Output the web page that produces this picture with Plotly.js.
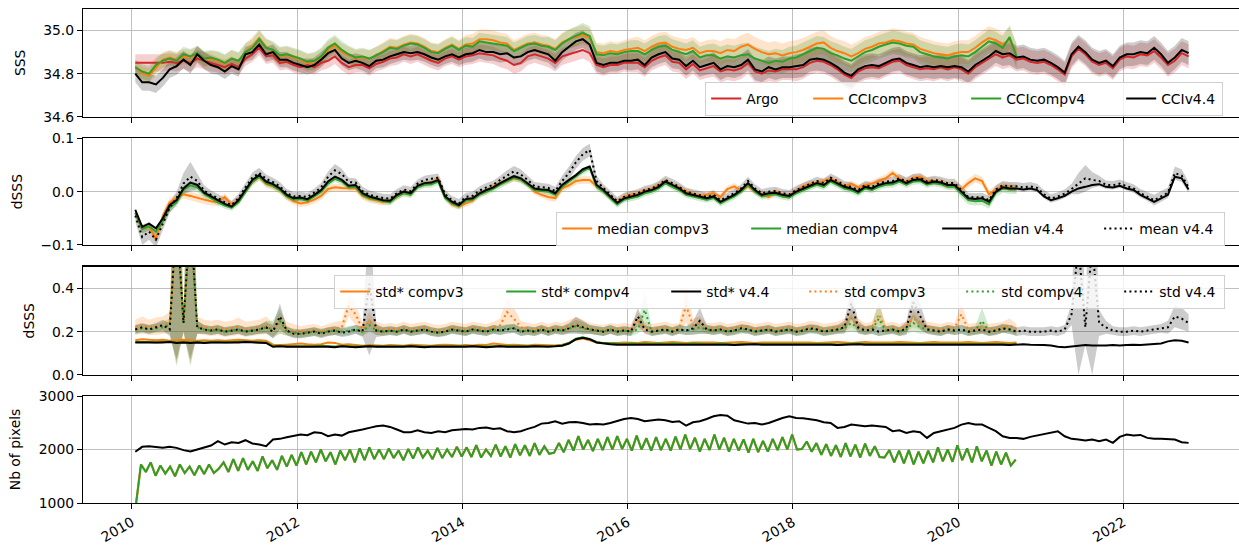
<!DOCTYPE html>
<html><head><meta charset="utf-8">
<script src="https://cdn.plot.ly/plotly-3.0.1.min.js"></script>
<style>html,body{margin:0;padding:0;background:#fff}#chart{width:1239px;height:546px}</style>
</head><body><div id="chart"></div>
<script>
// ---------- time bases ----------
const T0 = 2010.04, DT = 1 / 12;      // monthly samples (SSS, dSSS, std, v4.4 pixels)
const G0 = 2010.05, GDT = 1 / 17;     // compv3/compv4 pixel-count samples
const xTickVals = [2010, 2012, 2014, 2016, 2018, 2020, 2022];
const xTickText = ['2010', '2012', '2014', '2016', '2018', '2020', '2022'];

// ---------- panel 1 : SSS ----------
const sssArgo = [
34.85,34.85,34.85,34.85,34.85,34.855,34.85,34.86,34.85,34.87,34.86,34.85,
34.84,34.83,34.845,34.83,34.87,34.89,34.92,34.88,34.885,34.85,34.855,34.84,
34.83,34.84,34.83,34.85,34.86,34.88,34.85,34.83,34.84,34.84,34.825,34.845,
34.855,34.87,34.875,34.89,34.88,34.89,34.875,34.86,34.85,34.87,34.88,34.865,
34.88,34.885,34.895,34.89,34.885,34.87,34.86,34.84,34.85,34.88,34.89,34.88,
34.87,34.85,34.88,34.89,34.90,34.91,34.895,34.84,34.83,34.84,34.84,34.85,
34.85,34.85,34.83,34.86,34.875,34.885,34.855,34.85,34.82,34.845,34.815,34.825,
34.835,34.81,34.82,34.815,34.825,34.85,34.81,34.80,34.815,34.81,34.82,34.82,
34.82,34.83,34.85,34.86,34.855,34.84,34.82,34.795,34.78,34.81,34.825,34.83,
34.825,34.84,34.855,34.86,34.84,34.83,34.82,34.825,34.82,34.83,34.82,34.83,
34.82,34.80,34.83,34.85,34.87,34.89,34.875,34.885,34.865,34.87,34.855,34.85,
34.855,34.84,34.82,34.795,34.88,34.915,34.89,34.855,34.84,34.85,34.825,34.865,
34.88,34.875,34.89,34.885,34.905,34.875,34.84,34.86,34.895,34.88];
const sssV3 = [
34.83,34.80,34.79,34.83,34.865,34.875,34.865,34.88,34.875,34.89,34.865,34.87,
34.86,34.845,34.87,34.855,34.90,34.93,34.965,34.925,34.905,34.88,34.885,34.875,
34.865,34.85,34.855,34.875,34.91,34.93,34.90,34.885,34.87,34.875,34.87,34.885,
34.905,34.925,34.92,34.935,34.945,34.94,34.925,34.905,34.90,34.92,34.935,34.915,
34.935,34.94,34.96,34.96,34.955,34.945,34.94,34.91,34.925,34.94,34.945,34.935,
34.93,34.915,34.945,34.96,34.97,34.98,34.965,34.90,34.895,34.905,34.90,34.91,
34.915,34.92,34.905,34.925,34.94,34.945,34.925,34.915,34.91,34.92,34.895,34.905,
34.905,34.895,34.91,34.905,34.925,34.935,34.915,34.90,34.89,34.895,34.885,34.895,
34.90,34.91,34.925,34.94,34.945,34.92,34.905,34.895,34.88,34.895,34.915,34.925,
34.94,34.945,34.955,34.95,34.94,34.935,34.915,34.905,34.895,34.89,34.885,34.895,
34.90,34.90,34.92,34.945,34.965,34.955,34.935,34.96,34.89];
const sssV4 = [
34.83,34.81,34.80,34.84,34.86,34.87,34.86,34.89,34.88,34.895,34.87,34.875,
34.865,34.85,34.87,34.86,34.90,34.92,34.96,34.92,34.91,34.885,34.89,34.88,
34.87,34.855,34.86,34.88,34.92,34.94,34.91,34.89,34.875,34.88,34.87,34.885,
34.90,34.92,34.915,34.93,34.94,34.935,34.92,34.90,34.895,34.915,34.93,34.91,
34.93,34.925,34.95,34.945,34.94,34.935,34.93,34.905,34.92,34.935,34.94,34.93,
34.925,34.91,34.94,34.96,34.975,34.99,34.975,34.89,34.885,34.895,34.89,34.90,
34.905,34.905,34.89,34.91,34.925,34.93,34.91,34.90,34.89,34.905,34.875,34.885,
34.885,34.87,34.88,34.875,34.885,34.89,34.87,34.86,34.85,34.86,34.855,34.87,
34.875,34.89,34.905,34.92,34.915,34.895,34.885,34.87,34.86,34.88,34.90,34.91,
34.925,34.935,34.945,34.94,34.93,34.925,34.90,34.89,34.88,34.875,34.87,34.88,
34.885,34.88,34.90,34.925,34.95,34.94,34.92,34.97,34.88];
const sss44 = [
34.80,34.76,34.76,34.75,34.78,34.82,34.835,34.865,34.84,34.89,34.86,34.84,
34.83,34.81,34.835,34.82,34.89,34.90,34.935,34.89,34.90,34.865,34.865,34.85,
34.84,34.83,34.84,34.865,34.895,34.91,34.87,34.85,34.86,34.85,34.835,34.86,
34.865,34.88,34.89,34.90,34.895,34.90,34.89,34.875,34.865,34.88,34.89,34.875,
34.89,34.895,34.91,34.90,34.90,34.89,34.895,34.875,34.88,34.90,34.91,34.90,
34.89,34.86,34.90,34.925,34.95,34.96,34.935,34.85,34.84,34.85,34.85,34.86,
34.86,34.865,34.84,34.875,34.89,34.90,34.87,34.865,34.835,34.86,34.83,34.84,
34.85,34.82,34.835,34.83,34.84,34.865,34.82,34.81,34.83,34.82,34.83,34.83,
34.835,34.84,34.865,34.87,34.865,34.85,34.83,34.805,34.79,34.82,34.835,34.84,
34.835,34.85,34.865,34.87,34.85,34.84,34.83,34.835,34.83,34.835,34.83,34.835,
34.83,34.81,34.84,34.86,34.88,34.905,34.89,34.895,34.875,34.88,34.865,34.86,
34.865,34.85,34.83,34.805,34.89,34.925,34.90,34.865,34.85,34.86,34.835,34.875,
34.89,34.89,34.90,34.895,34.92,34.89,34.85,34.875,34.91,34.895];
// half-width of the shaded envelopes, one value per year (2010, 2011, ...)
const sprArgoY = [0.04,0.035,0.035,0.035,0.04,0.04,0.045,0.05,0.055,0.055,0.055,0.055,0.055];
const sprV3Y   = [0.035,0.04,0.04,0.04,0.045,0.045,0.05,0.055,0.055,0.055,0.055];
const sprV4Y   = [0.035,0.04,0.04,0.04,0.04,0.045,0.05,0.055,0.055,0.055,0.055];
const spr44Y   = [0.04,0.035,0.035,0.035,0.04,0.04,0.045,0.05,0.055,0.055,0.055,0.055,0.055];

// ---------- panel 2 : dSSS medians / mean ----------
const medV3 = [
-0.04,-0.07,-0.065,-0.09,-0.045,-0.02,-0.012,-0.005,-0.008,-0.012,-0.015,-0.018,
-0.02,-0.01,-0.025,-0.015,0.002,0.018,0.028,0.014,0.01,0.003,-0.009,-0.018,
-0.022,-0.02,-0.015,-0.008,0.005,0.008,0.007,0.007,0.006,-0.008,-0.014,-0.016,
-0.02,-0.018,-0.01,-0.002,-0.004,0.01,0.015,0.016,0.024,-0.01,-0.024,-0.028,
-0.022,-0.017,-0.004,0.0,0.01,0.016,0.02,0.025,0.022,0.014,0.0,-0.006,
-0.01,-0.012,0.006,0.012,0.02,0.022,0.022,0.01,0.002,-0.01,-0.02,-0.01,
-0.006,-0.004,0.002,0.005,0.012,0.02,0.012,0.008,0.0,-0.004,-0.008,-0.006,
-0.003,-0.01,0.005,0.01,0.002,0.01,0.0,-0.004,-0.01,0.0,-0.006,-0.008,
0.002,0.01,0.015,0.016,0.02,0.024,0.018,0.01,0.015,0.008,0.012,0.015,
0.02,0.025,0.035,0.025,0.018,0.026,0.028,0.02,0.02,0.018,0.012,0.012,
0.004,0.016,0.025,0.02,-0.005,0.004,0.01,0.008,0.006];
const medV4 = [
-0.04,-0.07,-0.065,-0.075,-0.055,-0.03,-0.02,0.003,0.012,0.008,-0.004,-0.012,
-0.02,-0.026,-0.03,-0.02,0.0,0.018,0.028,0.016,0.011,0.003,-0.009,-0.015,
-0.014,-0.017,-0.009,0.0,0.015,0.024,0.019,0.008,0.009,-0.006,-0.012,-0.015,
-0.018,-0.02,-0.009,-0.003,-0.006,0.008,0.013,0.014,0.019,-0.012,-0.022,-0.027,
-0.017,-0.015,-0.006,0.0,0.005,0.013,0.019,0.026,0.022,0.013,0.003,0.001,
0.0,-0.006,0.009,0.019,0.028,0.038,0.045,0.009,0.0,-0.012,-0.024,-0.015,
-0.012,-0.009,-0.003,0.0,0.006,0.016,0.009,0.003,-0.006,-0.009,-0.012,-0.015,
-0.012,-0.022,-0.015,-0.009,0.0,0.013,0.0,-0.009,-0.006,-0.005,-0.009,-0.011,
-0.003,0.003,0.008,0.013,0.009,0.019,0.013,0.006,0.003,-0.003,0.006,0.003,
0.009,0.013,0.014,0.019,0.013,0.019,0.02,0.013,0.016,0.014,0.009,0.009,
-0.004,-0.016,-0.018,-0.017,-0.024,-0.002,0.006,0.004,0.004];
const med44 = [
-0.034,-0.066,-0.06,-0.069,-0.05,-0.025,-0.016,0.006,0.017,0.0125,-0.002,-0.009,
-0.016,-0.023,-0.028,-0.016,0.003,0.022,0.031,0.019,0.014,0.006,-0.006,-0.0125,
-0.011,-0.014,-0.006,0.003,0.019,0.028,0.022,0.011,0.0125,-0.003,-0.009,-0.0125,
-0.016,-0.017,-0.006,0.0,-0.003,0.011,0.016,0.017,0.022,-0.009,-0.019,-0.025,
-0.014,-0.0125,-0.003,0.003,0.008,0.016,0.022,0.029,0.025,0.016,0.006,0.004,
0.003,-0.003,0.0125,0.022,0.031,0.042,0.047,0.0125,0.003,-0.009,-0.021,-0.0125,
-0.009,-0.006,0.0,0.003,0.009,0.019,0.0125,0.006,-0.003,-0.006,-0.009,-0.0125,
-0.009,-0.019,-0.0125,-0.006,0.003,0.016,0.003,-0.006,-0.003,-0.002,-0.006,-0.008,
0.0,0.006,0.011,0.016,0.0125,0.022,0.016,0.009,0.006,0.0,0.009,0.006,
0.0125,0.016,0.017,0.022,0.016,0.022,0.023,0.016,0.019,0.017,0.0125,0.0125,
0.0,-0.0125,-0.014,-0.0125,-0.019,0.0,0.008,0.006,0.006,0.004,0.006,0.003,
-0.009,-0.016,-0.0125,-0.008,0.0,0.006,0.009,0.0125,0.014,0.009,0.008,0.011,
0.006,0.003,-0.006,-0.0125,-0.019,-0.0125,-0.006,0.028,0.025,0.004];
const mean44 = [
-0.045,-0.085,-0.075,-0.09,-0.06,-0.03,-0.012,0.015,0.028,0.02,0.002,-0.006,
-0.012,-0.02,-0.025,-0.012,0.008,0.026,0.035,0.024,0.018,0.01,-0.003,-0.009,
-0.008,-0.01,-0.002,0.008,0.028,0.04,0.033,0.018,0.017,0.001,-0.006,-0.009,
-0.012,-0.013,-0.003,0.004,0.001,0.015,0.022,0.024,0.026,-0.005,-0.016,-0.022,
-0.01,-0.008,0.002,0.008,0.013,0.022,0.03,0.038,0.032,0.022,0.01,0.008,
0.007,0.001,0.02,0.035,0.055,0.07,0.078,0.02,0.006,-0.006,-0.018,-0.01,
-0.006,-0.003,0.003,0.006,0.012,0.022,0.016,0.009,0.0,-0.003,-0.006,-0.01,
-0.006,-0.016,-0.01,-0.003,0.006,0.02,0.006,-0.003,0.0,0.001,-0.003,-0.005,
0.003,0.009,0.014,0.02,0.016,0.026,0.02,0.012,0.009,0.003,0.012,0.009,
0.016,0.019,0.02,0.025,0.019,0.025,0.026,0.019,0.022,0.02,0.016,0.016,
0.003,-0.01,-0.011,-0.01,-0.016,0.004,0.012,0.01,0.01,0.008,0.01,0.007,
-0.005,-0.013,-0.009,-0.004,0.005,0.015,0.025,0.022,0.02,0.013,0.012,0.015,
0.01,0.006,-0.003,-0.009,-0.016,-0.009,-0.002,0.035,0.03,0.008];
const mean44Spr = [
.012,.015,.015,.015,.012,.01,.012,.02,.028,.015,.01,.008,
.008,.008,.008,.008,.008,.01,.01,.008,.008,.008,.008,.008,
.008,.008,.008,.008,.01,.012,.01,.008,.008,.008,.008,.008,
.008,.008,.008,.008,.008,.008,.008,.008,.008,.008,.008,.008,
.008,.008,.008,.008,.008,.008,.01,.01,.01,.008,.008,.008,
.008,.008,.01,.012,.012,.012,.012,.01,.008,.008,.008,.008,
.008,.008,.008,.008,.008,.008,.008,.008,.008,.008,.008,.008,
.008,.008,.008,.008,.008,.008,.008,.008,.008,.008,.008,.008,
.008,.008,.008,.008,.008,.008,.008,.008,.008,.008,.008,.008,
.008,.008,.008,.008,.008,.008,.008,.008,.008,.008,.008,.008,
.008,.008,.008,.008,.008,.008,.008,.008,.008,.008,.008,.008,
.008,.008,.008,.008,.01,.02,.025,.015,.01,.008,.008,.008,
.008,.008,.008,.008,.01,.01,.01,.012,.012,.01];
const sprMedV3Y = [0.008,0.007,0.007,0.006,0.006,0.007,0.006,0.006,0.006,0.007,0.008];
const sprMedV4Y = [0.008,0.006,0.006,0.006,0.006,0.006,0.006,0.006,0.006,0.006,0.008];

// ---------- panel 3 : dSSS standard deviations ----------
const stdStarV3 = [
0.16,0.165,0.162,0.16,0.162,0.158,0.16,0.162,0.16,0.158,0.16,0.158,
0.16,0.158,0.16,0.162,0.16,0.158,0.16,0.158,0.14,0.138,0.14,0.142,
0.145,0.142,0.14,0.142,0.15,0.148,0.14,0.142,0.138,0.135,0.138,0.136,
0.135,0.138,0.136,0.135,0.14,0.138,0.136,0.135,0.138,0.14,0.138,0.136,
0.138,0.136,0.14,0.138,0.145,0.14,0.138,0.14,0.138,0.136,0.14,0.138,
0.138,0.136,0.14,0.148,0.162,0.168,0.16,0.15,0.148,0.147,0.148,0.15,
0.15,0.148,0.152,0.15,0.148,0.15,0.152,0.15,0.148,0.15,0.15,0.152,
0.15,0.148,0.15,0.15,0.152,0.15,0.148,0.15,0.15,0.152,0.15,0.15,
0.15,0.152,0.15,0.148,0.15,0.15,0.152,0.15,0.148,0.15,0.152,0.15,
0.15,0.148,0.15,0.152,0.15,0.15,0.148,0.15,0.152,0.15,0.15,0.148,
0.15,0.152,0.15,0.148,0.15,0.152,0.15,0.148,0.15];
const stdStarV4 = [
0.152,0.153,0.152,0.15,0.153,0.154,0.15,0.152,0.15,0.152,0.15,0.152,
0.152,0.15,0.152,0.153,0.154,0.152,0.152,0.15,0.133,0.135,0.133,0.132,
0.134,0.132,0.133,0.135,0.133,0.131,0.134,0.132,0.131,0.133,0.134,0.132,
0.132,0.131,0.133,0.132,0.134,0.132,0.131,0.133,0.132,0.131,0.133,0.132,
0.133,0.134,0.132,0.131,0.133,0.134,0.132,0.133,0.131,0.132,0.134,0.133,
0.132,0.134,0.137,0.148,0.167,0.174,0.166,0.152,0.147,0.145,0.143,0.143,
0.145,0.143,0.145,0.143,0.145,0.143,0.145,0.143,0.143,0.145,0.143,0.143,
0.143,0.145,0.143,0.141,0.143,0.143,0.145,0.143,0.143,0.143,0.145,0.143,
0.143,0.145,0.143,0.145,0.143,0.143,0.141,0.143,0.143,0.145,0.143,0.143,
0.143,0.145,0.143,0.143,0.145,0.143,0.143,0.143,0.145,0.143,0.143,0.145,
0.143,0.143,0.145,0.143,0.143,0.145,0.143,0.141,0.143];
const stdStar44 = [
0.15,0.15,0.15,0.148,0.15,0.152,0.148,0.15,0.148,0.15,0.148,0.15,
0.15,0.148,0.15,0.15,0.152,0.15,0.15,0.148,0.13,0.132,0.13,0.13,
0.132,0.13,0.13,0.133,0.13,0.128,0.132,0.13,0.128,0.13,0.132,0.13,
0.13,0.128,0.13,0.13,0.132,0.13,0.128,0.13,0.13,0.128,0.13,0.13,
0.13,0.132,0.13,0.128,0.13,0.132,0.13,0.13,0.128,0.13,0.132,0.13,
0.13,0.132,0.135,0.145,0.165,0.172,0.165,0.15,0.145,0.142,0.14,0.14,
0.142,0.14,0.142,0.14,0.142,0.14,0.142,0.14,0.14,0.142,0.14,0.14,
0.14,0.142,0.14,0.138,0.14,0.14,0.142,0.14,0.14,0.14,0.142,0.14,
0.14,0.142,0.14,0.142,0.14,0.14,0.138,0.14,0.14,0.142,0.14,0.14,
0.14,0.142,0.14,0.14,0.142,0.14,0.14,0.14,0.142,0.14,0.14,0.142,
0.14,0.14,0.142,0.14,0.14,0.142,0.14,0.138,0.14,0.142,0.14,0.14,
0.138,0.136,0.13,0.128,0.132,0.135,0.138,0.136,0.135,0.136,0.138,0.136,
0.138,0.14,0.138,0.14,0.142,0.145,0.155,0.16,0.158,0.15];
const stdV3 = [
0.22,0.23,0.22,0.225,0.23,0.24,0.7,0.25,0.7,0.23,0.22,0.215,
0.22,0.21,0.215,0.225,0.21,0.215,0.22,0.23,0.21,0.24,0.215,0.205,
0.2,0.205,0.21,0.2,0.21,0.215,0.22,0.32,0.28,0.21,0.25,0.215,
0.21,0.215,0.21,0.22,0.21,0.215,0.22,0.21,0.205,0.21,0.22,0.215,
0.21,0.22,0.215,0.21,0.22,0.23,0.29,0.26,0.22,0.215,0.21,0.22,
0.21,0.22,0.215,0.225,0.235,0.225,0.215,0.21,0.205,0.215,0.21,0.215,
0.21,0.25,0.22,0.21,0.215,0.22,0.21,0.215,0.32,0.23,0.24,0.215,
0.215,0.22,0.21,0.215,0.225,0.22,0.21,0.215,0.22,0.21,0.215,0.22,
0.21,0.215,0.225,0.22,0.21,0.215,0.22,0.23,0.26,0.23,0.215,0.22,
0.28,0.215,0.22,0.21,0.225,0.26,0.24,0.22,0.215,0.21,0.22,0.215,
0.28,0.21,0.215,0.22,0.21,0.215,0.22,0.23,0.21];
const stdV3Spr = [
.035,.04,.035,.04,.04,.05,.65,.06,.65,.04,.035,.035,
.035,.035,.035,.04,.035,.035,.035,.04,.03,.05,.03,.03,
.025,.025,.025,.025,.025,.03,.03,.05,.05,.03,.04,.03,
.025,.025,.025,.025,.025,.025,.025,.025,.025,.025,.025,.025,
.025,.025,.025,.025,.025,.03,.07,.05,.03,.025,.025,.025,
.025,.025,.025,.03,.03,.03,.025,.025,.025,.025,.025,.025,
.025,.04,.025,.025,.025,.025,.025,.025,.08,.03,.03,.025,
.025,.025,.025,.025,.025,.025,.025,.025,.025,.025,.025,.025,
.025,.025,.025,.025,.025,.025,.025,.03,.04,.03,.025,.025,
.05,.025,.025,.025,.025,.04,.03,.025,.025,.025,.025,.025,
.05,.025,.025,.025,.025,.025,.025,.03,.025];
const stdV4 = [
0.21,0.215,0.21,0.215,0.22,0.23,0.7,0.24,0.7,0.22,0.21,0.205,
0.21,0.2,0.205,0.21,0.2,0.205,0.21,0.22,0.21,0.25,0.2,0.195,
0.19,0.195,0.2,0.195,0.2,0.205,0.2,0.205,0.21,0.2,0.23,0.205,
0.2,0.205,0.2,0.21,0.2,0.205,0.21,0.2,0.195,0.2,0.21,0.205,
0.2,0.21,0.205,0.2,0.21,0.205,0.215,0.215,0.2,0.205,0.2,0.21,
0.2,0.21,0.205,0.215,0.225,0.215,0.21,0.205,0.2,0.21,0.2,0.205,
0.2,0.21,0.3,0.2,0.205,0.21,0.2,0.21,0.205,0.21,0.22,0.21,
0.205,0.21,0.2,0.205,0.21,0.21,0.2,0.205,0.21,0.2,0.205,0.21,
0.2,0.205,0.21,0.21,0.2,0.205,0.21,0.215,0.24,0.215,0.205,0.21,
0.26,0.205,0.21,0.2,0.21,0.24,0.22,0.21,0.205,0.2,0.21,0.205,
0.21,0.2,0.205,0.25,0.2,0.205,0.215,0.21,0.2];
const stdV4Spr = [
.02,.02,.02,.02,.025,.03,.66,.04,.66,.03,.02,.02,
.02,.02,.02,.02,.02,.02,.02,.03,.04,.06,.02,.02,
.02,.02,.02,.02,.02,.02,.02,.02,.02,.02,.03,.02,
.02,.02,.02,.02,.02,.02,.02,.02,.02,.02,.02,.02,
.02,.02,.02,.02,.02,.02,.02,.02,.02,.02,.02,.02,
.02,.02,.02,.02,.03,.03,.02,.02,.02,.02,.02,.02,
.02,.02,.08,.02,.02,.02,.02,.02,.02,.02,.03,.02,
.02,.02,.02,.02,.02,.02,.02,.02,.02,.02,.02,.02,
.02,.02,.02,.02,.02,.02,.02,.02,.04,.02,.02,.02,
.08,.02,.02,.02,.02,.04,.03,.02,.02,.02,.02,.02,
.02,.02,.02,.06,.02,.02,.02,.02,.02];
const std44 = [
0.21,0.22,0.21,0.22,0.23,0.21,0.75,0.24,0.75,0.22,0.21,0.205,
0.21,0.2,0.205,0.21,0.2,0.205,0.21,0.22,0.2,0.27,0.205,0.19,
0.19,0.195,0.2,0.19,0.2,0.205,0.195,0.2,0.21,0.2,0.42,0.205,
0.2,0.205,0.2,0.21,0.2,0.205,0.21,0.2,0.195,0.2,0.21,0.205,
0.2,0.21,0.205,0.2,0.21,0.205,0.21,0.215,0.2,0.205,0.2,0.21,
0.2,0.21,0.205,0.215,0.23,0.22,0.21,0.205,0.2,0.21,0.2,0.205,
0.2,0.27,0.21,0.2,0.205,0.21,0.2,0.21,0.205,0.215,0.25,0.21,
0.205,0.21,0.2,0.205,0.215,0.21,0.2,0.205,0.21,0.2,0.205,0.21,
0.2,0.205,0.215,0.21,0.2,0.205,0.21,0.22,0.33,0.22,0.205,0.21,
0.2,0.205,0.21,0.2,0.215,0.335,0.27,0.21,0.205,0.2,0.21,0.205,
0.21,0.2,0.205,0.21,0.2,0.205,0.215,0.21,0.2,0.205,0.2,0.2,
0.2,0.205,0.2,0.21,0.28,0.6,0.22,0.6,0.24,0.22,0.205,0.2,
0.2,0.205,0.2,0.205,0.21,0.215,0.22,0.27,0.26,0.24];
const std44Spr = [
.02,.02,.02,.02,.025,.03,.68,.04,.68,.03,.02,.02,
.02,.02,.02,.02,.02,.02,.02,.025,.03,.06,.02,.02,
.02,.02,.02,.02,.02,.02,.02,.02,.02,.025,.33,.03,
.02,.02,.02,.02,.02,.02,.02,.02,.02,.02,.02,.02,
.02,.02,.02,.02,.02,.02,.02,.02,.02,.02,.02,.02,
.02,.02,.02,.025,.04,.03,.02,.02,.02,.02,.02,.02,
.02,.04,.02,.02,.02,.02,.02,.02,.02,.03,.06,.02,
.02,.02,.02,.02,.02,.02,.02,.02,.02,.02,.02,.02,
.02,.02,.02,.02,.02,.02,.02,.03,.07,.03,.02,.02,
.02,.02,.02,.02,.03,.07,.06,.02,.02,.02,.02,.02,
.02,.02,.02,.02,.02,.02,.02,.02,.02,.02,.02,.02,
.02,.02,.02,.02,.05,.6,.08,.6,.06,.03,.02,.02,
.02,.02,.02,.02,.02,.02,.03,.05,.05,.04];

// ---------- panel 4 : number of pixels ----------
const nbComp = [
1000,1720,1580,1760,1510,1700,1550,1680,1500,1720,1560,1680,1520,1700,1540,1720,1560,
1640,1760,1580,1820,1600,1840,1620,1780,1600,1870,1650,1800,1620,1880,1680,1900,1700,
1950,1720,1960,1760,2000,1780,1950,1720,1980,1800,2000,1760,2020,1800,2040,1820,2000,
1820,2020,1840,1980,1800,2010,1830,2040,1850,1980,1820,2030,1840,2000,1860,2050,1870,
2040,1860,2080,1850,2000,1880,2090,1870,2060,1850,2100,1890,2080,1880,2120,1900,2060,
1920,1940,2120,1950,2180,1980,2250,2000,2180,1970,2200,1990,2230,2000,2250,2010,2200,
1980,2260,2000,2210,1980,2230,1990,2200,1980,2240,2000,2280,2010,2220,1960,2200,1990,
2280,2000,2220,1960,2200,1980,2190,1940,2200,1950,2160,1960,2200,1990,2230,2000,2280,
2000,2010,2150,1960,2120,1900,2100,1880,2080,1860,2120,1870,2090,1850,2110,1880,2060,
1860,1850,1990,1760,1980,1740,1990,1720,1960,1740,1980,1760,2040,1780,2000,1770,2080,
1800,2020,1760,2060,1780,1980,1700,1960,1720,1940,1700,1810];
const nb44 = [
1957,2050,2062,2050,2031,2050,2031,1988,1963,2000,2031,2075,
2155,2093,2137,2124,2174,2112,2093,2062,2186,2199,2230,2260,
2280,2267,2323,2310,2248,2280,2260,2323,2342,2373,2404,2435,
2447,2422,2373,2323,2323,2360,2323,2310,2342,2323,2360,2373,
2385,2373,2404,2410,2385,2398,2342,2323,2342,2385,2422,2484,
2497,2528,2484,2509,2515,2497,2466,2478,2466,2497,2540,2571,
2590,2571,2528,2546,2559,2546,2515,2528,2447,2509,2528,2571,
2621,2646,2633,2546,2509,2484,2497,2466,2497,2546,2590,2621,
2590,2584,2571,2546,2509,2497,2404,2422,2466,2447,2435,2447,
2435,2422,2342,2360,2310,2342,2323,2217,2310,2342,2385,2404,
2466,2497,2466,2466,2404,2342,2248,2217,2217,2199,2236,2260,
2280,2310,2342,2248,2199,2186,2168,2186,2155,2186,2124,2236,
2280,2260,2273,2217,2199,2199,2199,2186,2137,2124];

// ---------- ticks ----------
const y1Ticks = [34.6, 34.8, 35.0], y1Text = ['34.6', '34.8', '35.0'];
const y2Ticks = [-0.1, 0, 0.1],    y2Text = ['\u22120.1', '0.0', '0.1'];
const y3Ticks = [0, 0.2, 0.4],     y3Text = ['0.0', '0.2', '0.4'];
const y4Ticks = [1000, 2000, 3000], y4Text = ['1000', '2000', '3000'];

// ---------- build ----------
const monthly = arr => arr.map((_, i) => T0 + i * DT);
const perYear = (arr, sprY) => monthly(arr).map(t => sprY[Math.min(Math.floor(t) - 2010, sprY.length - 1)]);

const RED = '#d62728', ORANGE = '#ff7f0e', GREEN = '#2ca02c', BLACK = '#000000';
const FILL = {red: 'rgba(214,39,40,0.22)', orange: 'rgba(255,127,14,0.22)',
              green: 'rgba(44,160,44,0.22)', black: 'rgba(0,0,0,0.2)'};

function band(y, spr, fill, k) {
  const x = monthly(y);
  const up = y.map((v, i) => v + spr[i]);
  const lo = y.map((v, i) => v - spr[i]);
  return {type: 'scatter', mode: 'lines', x: x.concat(x.slice().reverse()),
    y: up.concat(lo.slice().reverse()), fill: 'toself', fillcolor: fill,
    line: {width: 0}, hoverinfo: 'skip', showlegend: false,
    xaxis: k === 1 ? 'x' : 'x' + k, yaxis: k === 1 ? 'y' : 'y' + k};
}
function line(x, y, color, k, name, opts) {
  return Object.assign({type: 'scatter', mode: 'lines', x: x, y: y, name: name,
    line: {color: color, width: 2}, hoverinfo: 'skip',
    xaxis: k === 1 ? 'x' : 'x' + k, yaxis: k === 1 ? 'y' : 'y' + k}, opts || {});
}
const DOT = '2px,3.2px';

const data = [
  // panel 1
  band(sssArgo, perYear(sssArgo, sprArgoY), FILL.red, 1),
  band(sssV3, perYear(sssV3, sprV3Y), FILL.orange, 1),
  band(sssV4, perYear(sssV4, sprV4Y), FILL.green, 1),
  band(sss44, perYear(sss44, spr44Y), FILL.black, 1),
  line(monthly(sssArgo), sssArgo, RED, 1, 'Argo', {legend: 'legend', legendwidth: 57}),
  line(monthly(sssV3), sssV3, ORANGE, 1, 'CCIcompv3', {legend: 'legend', legendwidth: 113}),
  line(monthly(sssV4), sssV4, GREEN, 1, 'CCIcompv4', {legend: 'legend', legendwidth: 110}),
  line(monthly(sss44), sss44, BLACK, 1, 'CCIv4.4', {legend: 'legend', legendwidth: 56}),
  // panel 2
  band(medV3, perYear(medV3, sprMedV3Y), FILL.orange, 2),
  band(medV4, perYear(medV4, sprMedV4Y), FILL.green, 2),
  band(mean44, mean44Spr, FILL.black, 2),
  line(monthly(medV3), medV3, ORANGE, 2, 'median compv3', {legend: 'legend2', legendwidth: 144}),
  line(monthly(medV4), medV4, GREEN, 2, 'median compv4', {legend: 'legend2', legendwidth: 146}),
  line(monthly(med44), med44, BLACK, 2, 'median v4.4', {legend: 'legend2', legendwidth: 117}),
  line(monthly(mean44), mean44, BLACK, 2, 'mean v4.4', {legend: 'legend2', legendwidth: 80, line: {color: BLACK, width: 2, dash: DOT}}),
  // panel 3
  band(stdV3, stdV3Spr, FILL.orange, 3),
  band(stdV4, stdV4Spr, FILL.green, 3),
  band(std44, std44Spr, FILL.black, 3),
  line(monthly(stdStarV3), stdStarV3, ORANGE, 3, 'std* compv3', {legend: 'legend3', legendwidth: 121}),
  line(monthly(stdStarV4), stdStarV4, GREEN, 3, 'std* compv4', {legend: 'legend3', legendwidth: 120}),
  line(monthly(stdStar44), stdStar44, BLACK, 3, 'std* v4.4', {legend: 'legend3', legendwidth: 93}),
  line(monthly(stdV3), stdV3, ORANGE, 3, 'std compv3', {legend: 'legend3', legendwidth: 112, line: {color: ORANGE, width: 2, dash: DOT}}),
  line(monthly(stdV4), stdV4, GREEN, 3, 'std compv4', {legend: 'legend3', legendwidth: 113, line: {color: GREEN, width: 2, dash: DOT}}),
  line(monthly(std44), std44, BLACK, 3, 'std v4.4', {legend: 'legend3', legendwidth: 60, line: {color: BLACK, width: 2, dash: DOT}}),
  // panel 4
  line(nbComp.map((_, k) => G0 + k * GDT), nbComp, ORANGE, 4, 'compv3', {showlegend: false, line: {color: ORANGE, width: 2.2}}),
  line(nbComp.map((_, k) => G0 + k * GDT), nbComp, GREEN, 4, 'compv4', {showlegend: false}),
  line(monthly(nb44), nb44, BLACK, 4, 'v4.4', {showlegend: false})
];

const FONT = 'DejaVu Sans, Liberation Sans, sans-serif';
const FS = 13.9;
const xCommon = {range: [2009.407, 2023.40], tickvals: xTickVals, ticktext: xTickText,
  showgrid: true, gridcolor: '#b0b0b0', gridwidth: 0.8, zeroline: false,
  showline: true, linecolor: '#000', linewidth: 1.1, mirror: true,
  ticks: 'outside', ticklen: 5, tickwidth: 1, tickcolor: '#000',
  showticklabels: false, tickfont: {size: FS, color: '#000'}};
const yCommon = {showgrid: true, gridcolor: '#b0b0b0', gridwidth: 0.8, zeroline: false,
  showline: true, linecolor: '#000', linewidth: 1.1, mirror: true,
  ticks: 'outside', ticklen: 5, tickwidth: 1, tickcolor: '#000',
  tickfont: {size: FS, color: '#000'}};
const legCommon = {orientation: 'h', xanchor: 'left', yanchor: 'top',
  bgcolor: 'rgba(255,255,255,0.8)', bordercolor: '#d0d0d0', borderwidth: 1,
  font: {size: FS, color: '#000'}, itemwidth: 30, tracegroupgap: 0};
const yTitle = txt => ({text: txt, font: {size: FS}, standoff: 14});

const layout = {
  width: 1239, height: 546, margin: {l: 82.7, r: 0, t: 0, b: 43},
  paper_bgcolor: '#fff', plot_bgcolor: '#fff', font: {family: FONT, size: FS, color: '#000'},
  showlegend: true,
  xaxis:  Object.assign({}, xCommon, {anchor: 'y'}),
  xaxis2: Object.assign({}, xCommon, {anchor: 'y2'}),
  xaxis3: Object.assign({}, xCommon, {anchor: 'y3'}),
  xaxis4: Object.assign({}, xCommon, {anchor: 'y4', showticklabels: true, tickangle: -30}),
  yaxis:  Object.assign({}, yCommon, {anchor: 'x', domain: [0.768, 0.982], range: [34.6, 35.1],
            tickvals: y1Ticks, ticktext: y1Text, title: yTitle('SSS')}),
  yaxis2: Object.assign({}, yCommon, {anchor: 'x2', domain: [0.513, 0.725], range: [-0.1, 0.1],
            tickvals: y2Ticks, ticktext: y2Text, title: yTitle('dSSS')}),
  yaxis3: Object.assign({}, yCommon, {anchor: 'x3', domain: [0.2545, 0.470], range: [0, 0.5],
            tickvals: y3Ticks, ticktext: y3Text, title: yTitle('dSSS')}),
  yaxis4: Object.assign({}, yCommon, {anchor: 'x4', domain: [0, 0.2127], range: [1000, 3000],
            tickvals: y4Ticks, ticktext: y4Text, title: yTitle('Nb of pixels')}),
  legend:  Object.assign({}, legCommon, {x: 0.5382, y: 0.837}),
  legend2: Object.assign({}, legCommon, {x: 0.4093, y: 0.5785}),
  legend3: Object.assign({}, legCommon, {x: 0.2173, y: 0.4533})
};

Plotly.newPlot('chart', data, layout, {displayModeBar: false, staticPlot: true});
</script>
</body></html>
